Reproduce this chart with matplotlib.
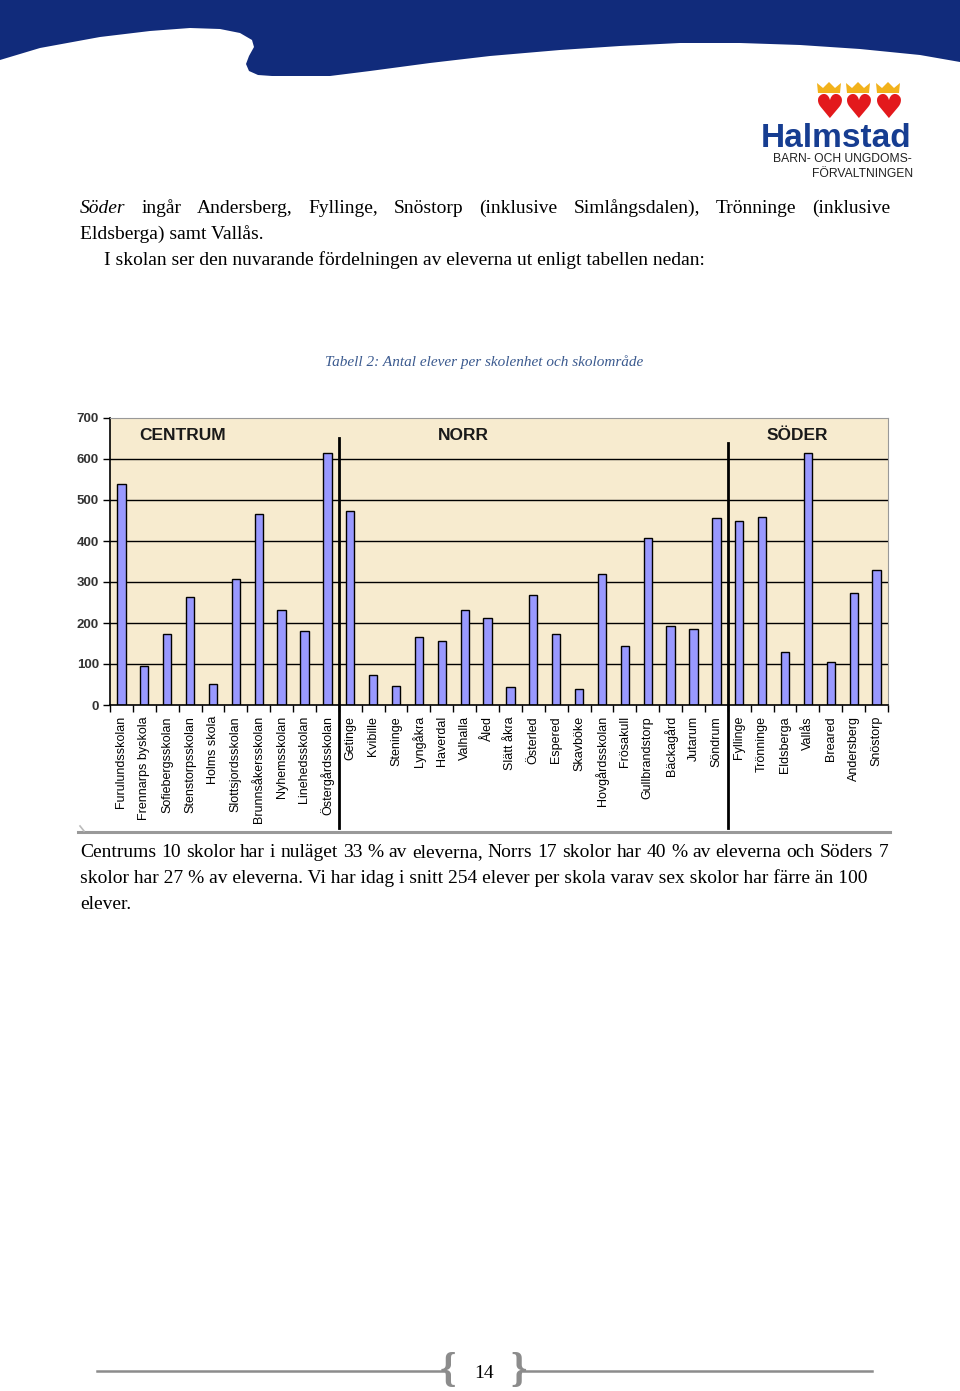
import numpy as np
import matplotlib
matplotlib.use("Agg")
import matplotlib.pyplot as plt
from matplotlib.patches import Polygon
from matplotlib.lines import Line2D
import matplotlib.transforms as mtransforms

# skolor per område, antal elever
centrum = ["Furulundsskolan", "Frennarps byskola", "Sofiebergsskolan", "Stenstorpsskolan",
           "Holms skola", "Slottsjordsskolan", "Brunnsåkersskolan", "Nyhemsskolan",
           "Linehedsskolan", "Östergårdsskolan"]
centrum_elever = [538, 94, 174, 263, 52, 308, 466, 232, 180, 615]

norr = ["Getinge", "Kvibille", "Steninge", "Lyngåkra", "Haverdal", "Valhalla", "Åled",
        "Slätt åkra", "Österled", "Espered", "Skavböke", "Hovgårdsskolan", "Frösakull",
        "Gullbrandstorp", "Bäckagård", "Jutarum", "Söndrum"]
norr_elever = [474, 73, 46, 165, 157, 232, 211, 45, 269, 174, 39, 319, 144, 407, 192, 186, 456]

soder = ["Fyllinge", "Trönninge", "Eldsberga", "Vallås", "Breared", "Andersberg", "Snöstorp"]
soder_elever = [449, 459, 129, 615, 106, 272, 329]

omraden = ["CENTRUM", "NORR", "SÖDER"]
yticks = [0, 100, 200, 300, 400, 500, 600, 700]

W, H = 960, 1391
NAVY = "#112b7b"
SERIF = "Liberation Serif"
SANS = "Liberation Sans"


def fx(x):
    return x / W


def fy(y):
    return 1 - y / H


fig = plt.figure(figsize=(9.6, 13.91), dpi=100)
renderer = fig.canvas.get_renderer()

# --- blå våg i sidhuvudet
wave = [(0, 60), (40, 48), (100, 37), (150, 31), (190, 28), (220, 29), (240, 33), (252, 40),
        (254, 47), (249, 56), (246, 64), (249, 71), (258, 75), (272, 76), (330, 76), (370, 71),
        (430, 63), (490, 56), (560, 50), (620, 46), (680, 43), (740, 43), (800, 45), (860, 49),
        (920, 55), (960, 62), (960, 0), (0, 0)]
fig.patches.append(Polygon([(fx(x), fy(y)) for x, y in wave], closed=True,
                           transform=fig.transFigure, facecolor=NAVY, edgecolor="none"))

# --- logga
for cx in [829, 858, 888]:
    crown = [(cx - 12, 83), (cx - 6, 88), (cx, 82), (cx + 6, 88), (cx + 12, 83),
             (cx + 11, 93), (cx - 11, 93)]
    fig.patches.append(Polygon([(fx(x), fy(y)) for x, y in crown], closed=True,
                               transform=fig.transFigure, facecolor="#f2b21b", edgecolor="none"))
    fig.text(fx(cx), fy(108), "\u2665", fontsize=24, color="#e3191c", family="DejaVu Sans",
             ha="center", va="center")
fig.text(fx(836), fy(147), "Halmstad", fontsize=24, fontweight="bold", color="#163d91",
         family=SANS, ha="center", va="baseline")
fig.text(fx(912), fy(162), "BARN- OCH UNGDOMS-", fontsize=8.7, color="#222222",
         family=SANS, ha="right", va="baseline")
fig.text(fx(913), fy(177), "FÖRVALTNINGEN", fontsize=8.7, color="#222222",
         family=SANS, ha="right", va="baseline")


# --- brödtext
def justify(words, x0, x1, y, size=14):
    texts = [fig.text(0, fy(y), w, fontsize=size, family=SERIF, style=st, va="baseline")
             for w, st in words]
    widths = [t.get_window_extent(renderer).width for t in texts]
    gap = (x1 - x0 - sum(widths)) / (len(texts) - 1)
    x = x0
    for t, w in zip(texts, widths):
        t.set_x(fx(x))
        x += w + gap


rad1 = [("Söder", "italic")] + [(w, "normal") for w in
        "ingår Andersberg, Fyllinge, Snöstorp (inklusive Simlångsdalen), Trönninge (inklusive".split()]
justify(rad1, 80, 890, 213)
fig.text(fx(80), fy(239), "Eldsberga) samt Vallås.", fontsize=14, family=SERIF, va="baseline")
fig.text(fx(104), fy(265), "I skolan ser den nuvarande fördelningen av eleverna ut enligt tabellen nedan:",
         fontsize=14, family=SERIF, va="baseline")

fig.text(fx(484), fy(366), "Tabell 2: Antal elever per skolenhet och skolområde", fontsize=11,
         style="italic", family=SERIF, color="#3b5a8f", ha="center", va="baseline")

justify([(w, "normal") for w in
         "Centrums 10 skolor har i nuläget 33 % av eleverna, Norrs 17 skolor har 40 % av eleverna och Söders 7".split()],
        80, 888, 857)
fig.text(fx(80), fy(883), "skolor har 27 % av eleverna. Vi har idag i snitt 254 elever per skola varav sex skolor har färre än 100",
         fontsize=14, family=SERIF, va="baseline")
fig.text(fx(80), fy(909), "elever.", fontsize=14, family=SERIF, va="baseline")

# --- diagrammet
skolor = centrum + norr + soder
elever = centrum_elever + norr_elever + soder_elever
x = np.arange(len(skolor))

ax = fig.add_axes([fx(110), fy(705), (888 - 110) / W, (705 - 418) / H])
ax.set_facecolor("#f7ebcf")
for v in yticks[1:-1]:
    ax.axhline(v, color="black", lw=1, zorder=1)
ax.bar(x, elever, width=0.36, color="#9999ff", edgecolor="black", linewidth=1, zorder=2)

ax.set_xlim(-0.5, len(skolor) - 0.5)
ax.set_ylim(0, 700)
ax.set_yticks(yticks)
ax.set_yticklabels([str(v) for v in yticks], fontsize=9.5, fontweight="bold", family=SANS,
                   color="#333333")
ax.tick_params(axis="y", length=5, width=1, pad=3)
ax.set_xticks(x)
ax.set_xticklabels(skolor, rotation=90, fontsize=9, family=SANS, va="top", ha="center")
ax.set_xticks(np.arange(len(skolor) + 1) - 0.5, minor=True)
ax.tick_params(axis="x", which="major", length=0, pad=8)
ax.tick_params(axis="x", which="minor", length=5, width=1)
for s in ["top", "right"]:
    ax.spines[s].set_color("#999999")
for s in ["left", "bottom"]:
    ax.spines[s].set_color("black")
    ax.spines[s].set_linewidth(1.2)

# områdesnamn och skiljelinjer
mitt = [2.65, 14.93, 29.53]
for namn, xm in zip(omraden, mitt):
    ax.text(xm, 0.94, namn, transform=ax.get_xaxis_transform(), fontsize=12.5,
            fontweight="bold", family=SANS, color="#1a1a1a", ha="center", va="center")
trans = mtransforms.blended_transform_factory(ax.transData, ax.transAxes)
for xs, ytop in [(len(centrum) - 0.5, 0.930), (len(centrum) + len(norr) - 0.5, 0.913)]:
    ax.plot([xs, xs], [ytop, -0.43], color="black", lw=2, transform=trans, clip_on=False, zorder=5)

# gråa linjer
fig.lines.append(Line2D([fx(78), fx(890)], [fy(832), fy(832)], color="#999999", lw=2.2,
                        transform=fig.transFigure))
fig.lines.append(Line2D([fx(80), fx(84)], [fy(826), fy(831)], color="#bbbbbb", lw=1.2,
                        transform=fig.transFigure))

# --- sidfot
fig.lines.append(Line2D([fx(97), fx(444)], [fy(1371), fy(1371)], color="#8c8c8c", lw=1.8,
                        transform=fig.transFigure))
fig.lines.append(Line2D([fx(523), fx(872)], [fy(1371), fy(1371)], color="#8c8c8c", lw=1.8,
                        transform=fig.transFigure))
fig.text(fx(448), fy(1371), "{", fontsize=30, color="#8c8c8c", family=SERIF, fontweight="bold",
         ha="center", va="center")
fig.text(fx(519), fy(1371), "}", fontsize=30, color="#8c8c8c", family=SERIF, fontweight="bold",
         ha="center", va="center")
fig.text(fx(484), fy(1378), "14", fontsize=14, family=SERIF, ha="center", va="baseline")

fig.savefig("out.png", dpi=100, facecolor="white")
